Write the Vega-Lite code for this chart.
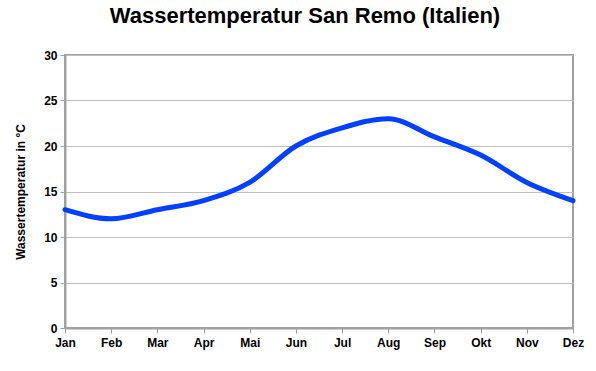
{
  "$schema": "https://vega.github.io/schema/vega-lite/v6.json",
  "width": 508,
  "height": 273,
  "autosize": {"type": "none"},
  "padding": {"left": 65, "top": 55, "right": 23, "bottom": 43},
  "background": "white",
  "title": {
    "text": "Wassertemperatur San Remo (Italien)",
    "font": "Liberation Sans",
    "fontSize": 22,
    "fontWeight": "bold",
    "color": "#000000",
    "anchor": "middle",
    "dx": -14,
    "offset": 21
  },
  "config": {
    "view": {"stroke": "#a0a0a0", "strokeWidth": 2},
    "axis": {
      "labelFont": "Liberation Sans",
      "labelFontSize": 12,
      "labelFontWeight": "bold",
      "labelColor": "#000000",
      "titleFont": "Liberation Sans",
      "titleFontSize": 12,
      "titleFontWeight": "bold",
      "titleColor": "#000000",
      "domainColor": "#a0a0a0",
      "domainWidth": 2,
      "tickColor": "#a0a0a0",
      "tickWidth": 1,
      "gridColor": "#c0c0c0",
      "gridWidth": 1
    }
  },
  "data": {
    "values": [
      {"Monat": "Jan", "Temp": 13},
      {"Monat": "Feb", "Temp": 12},
      {"Monat": "Mar", "Temp": 13},
      {"Monat": "Apr", "Temp": 14},
      {"Monat": "Mai", "Temp": 16},
      {"Monat": "Jun", "Temp": 20},
      {"Monat": "Jul", "Temp": 22},
      {"Monat": "Aug", "Temp": 23},
      {"Monat": "Sep", "Temp": 21},
      {"Monat": "Okt", "Temp": 19},
      {"Monat": "Nov", "Temp": 16},
      {"Monat": "Dez", "Temp": 14}
    ]
  },
  "mark": {"type": "line", "interpolate": "monotone", "color": "#0040ff", "strokeWidth": 5, "strokeCap": "round", "clip": false},
  "encoding": {
    "x": {
      "field": "Monat",
      "type": "ordinal",
      "sort": null,
      "scale": {"type": "point", "padding": 0},
      "axis": {"title": null, "labelAngle": 0, "tickSize": 5, "labelPadding": 4, "grid": false}
    },
    "y": {
      "field": "Temp",
      "type": "quantitative",
      "scale": {"domain": [0, 30], "nice": false},
      "axis": {"title": "Wassertemperatur in °C", "values": [0, 5, 10, 15, 20, 25, 30], "tickSize": 5, "labelPadding": 3, "titlePadding": 16, "grid": true}
    }
  }
}
